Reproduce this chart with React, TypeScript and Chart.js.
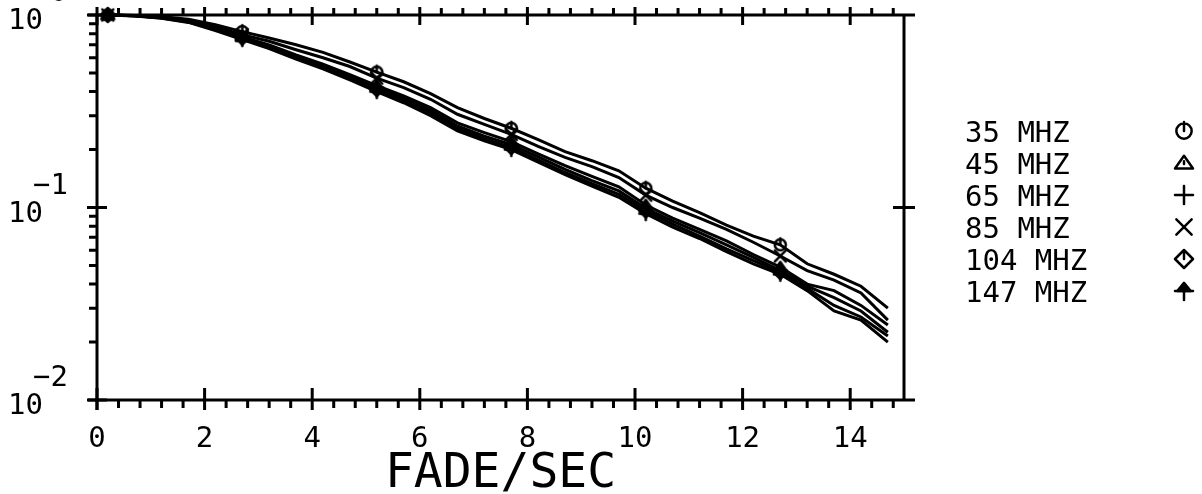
import React, { useEffect, useRef } from "react";
import { Chart, registerables } from "chart.js";

Chart.register(...registerables);

// ---------------- data ----------------
const fadeSec = [
  0.2, 0.7, 1.2, 1.7, 2.2, 2.7, 3.2, 3.7, 4.2, 4.7,
  5.2, 5.7, 6.2, 6.7, 7.2, 7.7, 8.2, 8.7, 9.2, 9.7,
  10.2, 10.7, 11.2, 11.7, 12.2, 12.7, 13.2, 13.7, 14.2, 14.7,
];

const mhz35 = [
  1.0, 0.995, 0.98, 0.95, 0.89, 0.82, 0.76, 0.70, 0.64, 0.57,
  0.505, 0.45, 0.39, 0.33, 0.29, 0.258, 0.225, 0.195, 0.175, 0.155,
  0.126, 0.108, 0.094, 0.081, 0.071, 0.064, 0.051, 0.045, 0.039, 0.030,
];
const mhz45 = [
  1.0, 0.99, 0.97, 0.93, 0.85, 0.77, 0.70, 0.62, 0.555, 0.49,
  0.43, 0.38, 0.33, 0.275, 0.245, 0.22, 0.19, 0.165, 0.145, 0.128,
  0.103, 0.088, 0.077, 0.067, 0.057, 0.049, 0.040, 0.037, 0.031, 0.0245,
];
const mhz65 = [
  1.0, 0.99, 0.968, 0.925, 0.845, 0.765, 0.69, 0.61, 0.545, 0.48,
  0.42, 0.37, 0.32, 0.265, 0.235, 0.212, 0.183, 0.158, 0.138, 0.122,
  0.099, 0.085, 0.074, 0.064, 0.055, 0.047, 0.039, 0.034, 0.029, 0.0225,
];
const mhz85 = [
  1.0, 0.993, 0.975, 0.94, 0.87, 0.79, 0.73, 0.66, 0.60, 0.54,
  0.47, 0.42, 0.365, 0.305, 0.27, 0.24, 0.208, 0.182, 0.163, 0.143,
  0.116, 0.100, 0.088, 0.077, 0.066, 0.056, 0.047, 0.042, 0.036, 0.026,
];
const mhz104 = [
  1.0, 0.99, 0.965, 0.92, 0.84, 0.76, 0.68, 0.60, 0.535, 0.47,
  0.41, 0.36, 0.31, 0.257, 0.228, 0.205, 0.177, 0.152, 0.133, 0.117,
  0.096, 0.082, 0.071, 0.061, 0.053, 0.046, 0.038, 0.031, 0.027, 0.0215,
];
const mhz147 = [
  1.0, 0.988, 0.962, 0.915, 0.83, 0.745, 0.67, 0.59, 0.525, 0.46,
  0.40, 0.35, 0.30, 0.25, 0.222, 0.200, 0.172, 0.148, 0.129, 0.113,
  0.093, 0.079, 0.069, 0.059, 0.051, 0.045, 0.037, 0.029, 0.026, 0.020,
];

const seriesLabels = ["35 MHZ", "45 MHZ", "65 MHZ", "85 MHZ", "104 MHZ", "147 MHZ"];
const seriesValues = [mhz35, mhz45, mhz65, mhz85, mhz104, mhz147];
const seriesSymbols = ["circle", "triangle", "plus", "cross", "diamond", "umbrella"];

const xTickValues = [0, 2, 4, 6, 8, 10, 12, 14];
const yTickExponents = [0, -1, -2];
const xAxisTitle = "FADE/SEC";

// ---------------- helpers ----------------
const FONT = "'DejaVu Sans Mono', 'Liberation Mono', monospace";

function makeSymbol(kind: string, size: number, lw: number): HTMLCanvasElement {
  const pad = Math.ceil(lw) + 2;
  const c = document.createElement("canvas");
  c.width = size + pad * 2;
  c.height = size + pad * 2;
  const g = c.getContext("2d") as CanvasRenderingContext2D;
  g.strokeStyle = "#000";
  g.fillStyle = "#000";
  g.lineWidth = lw;
  g.lineCap = "round";
  g.lineJoin = "round";
  const cx = c.width / 2;
  const cy = c.height / 2;
  const r = size / 2;
  g.beginPath();
  switch (kind) {
    case "circle":
      g.arc(cx, cy, r * 0.85, 0, Math.PI * 2);
      g.moveTo(cx, cy - r);
      g.lineTo(cx, cy);
      break;
    case "triangle":
      g.moveTo(cx, cy - r * 0.8);
      g.lineTo(cx + r, cy + r * 0.6);
      g.lineTo(cx - r, cy + r * 0.6);
      g.closePath();
      g.moveTo(cx, cy - r * 0.2);
      g.lineTo(cx, cy + r * 0.1);
      break;
    case "plus":
      g.moveTo(cx - r, cy);
      g.lineTo(cx + r, cy);
      g.moveTo(cx, cy - r);
      g.lineTo(cx, cy + r);
      break;
    case "cross":
      g.moveTo(cx - r * 0.85, cy - r * 0.85);
      g.lineTo(cx + r * 0.85, cy + r * 0.85);
      g.moveTo(cx + r * 0.85, cy - r * 0.85);
      g.lineTo(cx - r * 0.85, cy + r * 0.85);
      break;
    case "diamond":
      g.moveTo(cx, cy - r);
      g.lineTo(cx + r, cy);
      g.lineTo(cx, cy + r);
      g.lineTo(cx - r, cy);
      g.closePath();
      g.moveTo(cx, cy - r);
      g.lineTo(cx, cy);
      break;
    case "umbrella":
      g.moveTo(cx - r, cy);
      g.lineTo(cx + r, cy);
      g.moveTo(cx, cy);
      g.lineTo(cx, cy + r);
      g.stroke();
      g.beginPath();
      g.moveTo(cx - r * 0.75, cy);
      g.lineTo(cx, cy - r * 0.9);
      g.lineTo(cx + r * 0.75, cy);
      g.closePath();
      g.fill();
      break;
  }
  g.stroke();
  return c;
}

const framePlugin = {
  id: "plotterFrame",
  afterDatasetsDraw(chart: any) {
    const { ctx, chartArea: a, scales } = chart;
    const xs = scales.x;
    const ys = scales.y;
    ctx.save();
    ctx.strokeStyle = "#000";
    ctx.fillStyle = "#000";
    ctx.lineWidth = 3;
    ctx.lineCap = "butt";

    // frame
    ctx.beginPath();
    ctx.moveTo(a.left - 9, a.top);
    ctx.lineTo(a.right + 11, a.top);
    ctx.moveTo(a.left - 9, a.bottom);
    ctx.lineTo(a.right + 11, a.bottom);
    ctx.moveTo(a.left, a.top - 1);
    ctx.lineTo(a.left, a.bottom + 10);
    ctx.moveTo(a.right, a.top);
    ctx.lineTo(a.right, a.bottom);
    ctx.stroke();

    // x ticks (major every 2, minor every 0.4)
    ctx.beginPath();
    for (let i = 0; i <= 37; i++) {
      const v = i * 0.4;
      if (v > xs.max + 1e-6) break;
      const px = xs.getPixelForValue(v);
      const isMajor = Math.abs(v / 2 - Math.round(v / 2)) < 1e-6;
      if (isMajor) continue;
      ctx.moveTo(px, a.top);
      ctx.lineTo(px, a.top - 7);
      ctx.moveTo(px, a.bottom);
      ctx.lineTo(px, a.bottom + 8);
    }
    for (const v of xTickValues) {
      const px = xs.getPixelForValue(v);
      ctx.moveTo(px, a.top - 8);
      ctx.lineTo(px, a.top + 10);
      ctx.moveTo(px, a.bottom - 12);
      ctx.lineTo(px, a.bottom + 10);
    }
    // y ticks
    for (const e of yTickExponents) {
      const base = Math.pow(10, e);
      const py = ys.getPixelForValue(base);
      ctx.moveTo(a.left - 10, py);
      ctx.lineTo(a.left + 10, py);
      if (e === -1) {
        ctx.moveTo(a.right - 11, py);
        ctx.lineTo(a.right + 11, py);
      }
      if (e > -2) {
        for (let m = 2; m <= 9; m++) {
          const mv = (base / 10) * m;
          const my = ys.getPixelForValue(mv);
          ctx.moveTo(a.left - 8, my);
          ctx.lineTo(a.left, my);
        }
      }
    }
    ctx.stroke();

    // x tick labels
    ctx.font = `29px ${FONT}`;
    ctx.textAlign = "center";
    ctx.textBaseline = "alphabetic";
    for (const v of xTickValues) {
      ctx.fillText(String(v), xs.getPixelForValue(v), a.bottom + 47);
    }
    // x title
    ctx.font = `48px ${FONT}`;
    ctx.fillText(xAxisTitle, (a.left + a.right) / 2, 487);

    // y tick labels: 10 with superscript exponent
    ctx.textAlign = "left";
    ctx.font = `29px ${FONT}`;
    for (const e of yTickExponents) {
      const py = ys.getPixelForValue(Math.pow(10, e));
      ctx.fillText("10", 8, py + 14);
      if (e === 0) ctx.fillText("0", 50, py - 14);
      else ctx.fillText("\u2212" + Math.abs(e), 33, py - 14);
    }

    // legend
    ctx.font = `29px ${FONT}`;
    seriesLabels.forEach((lab, i) => {
      const cy = 131 + 32 * i;
      ctx.fillText(lab, 965, cy + 10.5);
      const sym = legendSymbols[i];
      ctx.drawImage(sym, 1184 - sym.width / 2, cy - sym.height / 2);
    });
    ctx.restore();
  },
};

let legendSymbols: HTMLCanvasElement[] = [];

export default function App() {
  const ref = useRef<HTMLCanvasElement | null>(null);
  useEffect(() => {
    if (!ref.current) return;
    legendSymbols = seriesSymbols.map((k) => makeSymbol(k, 18, 2.5));
    const pointSymbols = seriesSymbols.map((k) => makeSymbol(k, 13, 2.5));
    const chart = new Chart(ref.current, {
      type: "line",
      data: {
        datasets: seriesValues.map((vals, si) => ({
          label: seriesLabels[si],
          data: fadeSec.map((x, i) => ({ x, y: vals[i] })),
          borderColor: "#000",
          backgroundColor: "#000",
          borderWidth: 3,
          tension: 0,
          fill: false,
          clip: false as any,
          pointStyle: pointSymbols[si] as any,
          pointRadius: (c: any) => (c.dataIndex % 5 === 0 ? 6 : 0),
          pointHoverRadius: 0,
        })),
      },
      options: {
        animation: false,
        responsive: false,
        devicePixelRatio: 1,
        layout: { padding: { left: 97, top: 15, right: 1202 - 904, bottom: 494 - 400 } },
        plugins: { legend: { display: false }, tooltip: { enabled: false } },
        events: [],
        scales: {
          x: { type: "linear", min: 0, max: 15, display: false },
          y: { type: "logarithmic", min: 0.01, max: 1, display: false },
        },
      },
      plugins: [framePlugin],
    });
    return () => chart.destroy();
  }, []);
  return (
    <div style={{ position: "absolute", left: 0, top: 0, width: 1202, height: 494, background: "#fff" }}>
      <canvas ref={ref} width={1202} height={494} style={{ display: "block" }} />
    </div>
  );
}
